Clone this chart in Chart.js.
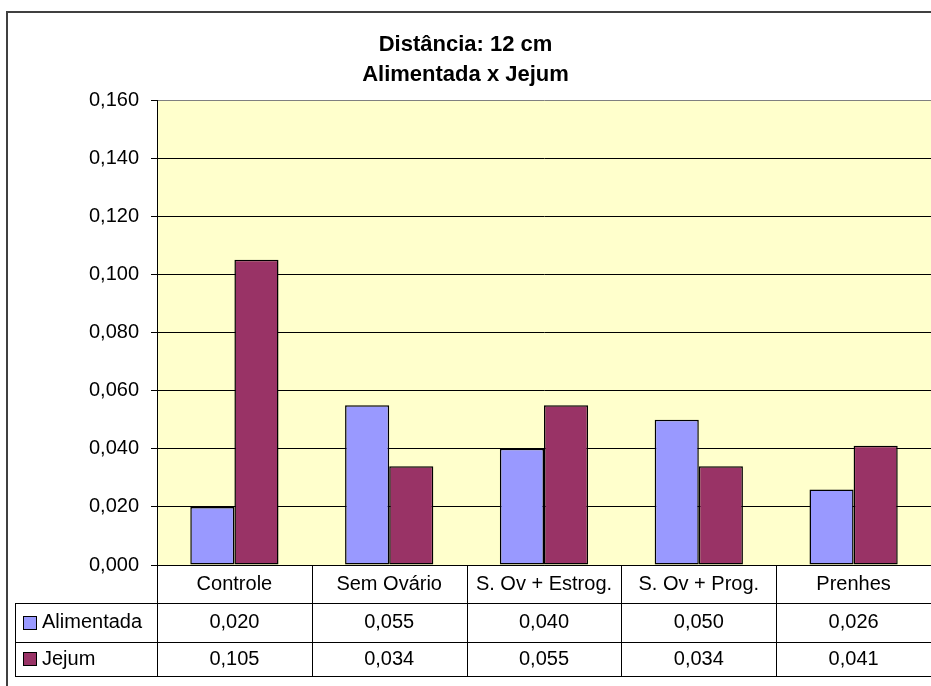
<!DOCTYPE html>
<html>
<head>
<meta charset="utf-8">
<script src="https://cdn.jsdelivr.net/npm/chart.js@4/dist/chart.umd.min.js"></script>
<style>
  html, body { margin: 0; padding: 0; background: #fff; overflow: hidden; }
</style>
</head>
<body>
<canvas id="chart" width="931" height="686"></canvas>
<script>
// values per group, one array per series
const categories = ['Controle', 'Sem Ovário', 'S. Ov + Estrog.', 'S. Ov + Prog.', 'Prenhes'];
const alimentada = [0.020, 0.055, 0.040, 0.050, 0.026];
const jejum = [0.105, 0.034, 0.055, 0.034, 0.041];
const seriesNames = ['Alimentada', 'Jejum'];
const seriesColors = ['#9999FF', '#993366'];
const titleLines = ['Distância: 12 cm', 'Alimentada x Jejum'];
const yMax = 0.16;
const yStep = 0.02;

const FONT = "'Liberation Sans', Arial, sans-serif";
const fmt = v => v.toFixed(3).replace('.', ',');

// yellow plot background
const plotBg = {
  id: 'plotBg',
  beforeDraw(chart) {
    const { ctx, chartArea: a } = chart;
    ctx.save();
    ctx.fillStyle = '#FFFFCC';
    ctx.fillRect(a.left, a.top, a.right - a.left, a.bottom - a.top);
    ctx.restore();
  }
};

// data table under the plot + outer frame
const dataTable = {
  id: 'dataTable',
  afterDraw(chart) {
    const { ctx, chartArea: a, scales: { x } } = chart;
    const colW = (a.right - a.left) / categories.length;
    const rows = [a.bottom, a.bottom + 38, a.bottom + 77, a.bottom + 111];
    const tableLeft = 15;
    const series = [alimentada, jejum];

    ctx.save();
    ctx.strokeStyle = '#000';
    ctx.lineWidth = 1;
    ctx.beginPath();
    for (let i = 0; i < categories.length; i++) {
      const xl = Math.round(x.getPixelForValue(i) - colW / 2) + 0.5;
      ctx.moveTo(xl, rows[0]);
      ctx.lineTo(xl, rows[3]);
    }
    for (let r = 1; r < rows.length; r++) {
      ctx.moveTo(tableLeft, Math.round(rows[r]) + 0.5);
      ctx.lineTo(a.right, Math.round(rows[r]) + 0.5);
    }
    ctx.moveTo(tableLeft + 0.5, rows[1]);
    ctx.lineTo(tableLeft + 0.5, rows[3]);
    ctx.stroke();

    ctx.fillStyle = '#000';
    ctx.font = '20px ' + FONT;
    ctx.textBaseline = 'middle';
    ctx.textAlign = 'center';
    const hy = (rows[0] + rows[1]) / 2;
    categories.forEach((c, i) => ctx.fillText(c, x.getPixelForValue(i), hy));

    series.forEach((vals, s) => {
      const cy = (rows[s + 1] + rows[s + 2]) / 2;
      ctx.textAlign = 'center';
      ctx.fillStyle = '#000';
      vals.forEach((v, i) => ctx.fillText(fmt(v), x.getPixelForValue(i), cy));
      // legend key
      ctx.fillStyle = seriesColors[s];
      ctx.fillRect(23.5, Math.round(cy) - 6.5, 13, 13);
      ctx.strokeRect(23.5, Math.round(cy) - 6.5, 13, 13);
      ctx.fillStyle = '#000';
      ctx.textAlign = 'left';
      ctx.fillText(seriesNames[s], 42, cy);
    });

    // chart frame
    ctx.strokeStyle = '#404040';
    ctx.lineWidth = 2;
    ctx.beginPath();
    ctx.moveTo(7, chart.height);
    ctx.lineTo(7, 12);
    ctx.lineTo(chart.width, 12);
    ctx.stroke();
    ctx.restore();
  }
};

const barStyle = { borderColor: '#000', borderWidth: 1.5, borderSkipped: false };

new Chart(document.getElementById('chart'), {
  type: 'bar',
  data: {
    labels: categories,
    datasets: [
      { label: seriesNames[0], data: alimentada, backgroundColor: seriesColors[0], ...barStyle },
      { label: seriesNames[1], data: jejum, backgroundColor: seriesColors[1], ...barStyle }
    ]
  },
  options: {
    responsive: false,
    animation: false,
    layout: { padding: 0 },
    datasets: { bar: { categoryPercentage: 0.57, barPercentage: 1 } },
    plugins: {
      legend: { display: false },
      tooltip: { enabled: false },
      title: {
        display: true,
        text: titleLines,
        color: '#000',
        font: { family: FONT, size: 22, weight: 'bold', lineHeight: 30 / 22 },
        padding: { top: 30, bottom: 10 }
      }
    },
    scales: {
      x: {
        grid: { display: false },
        border: { display: true, color: '#000', width: 1 },
        ticks: { display: false },
        afterFit(scale) { scale.height = 121; }
      },
      y: {
        min: 0,
        max: yMax,
        grid: {
          color: ctx => (ctx.tick && Math.abs(ctx.tick.value - yMax) < 1e-9) ? '#808080' : '#000',
          tickColor: '#000',
          tickLength: 6,
          lineWidth: 1
        },
        border: { display: true, color: '#000', width: 1 },
        ticks: {
          stepSize: yStep,
          color: '#000',
          padding: 12,
          font: { family: FONT, size: 20 },
          callback: v => fmt(v)
        },
        afterFit(scale) { scale.width = 157; }
      }
    }
  },
  plugins: [plotBg, dataTable]
});
</script>
</body>
</html>
